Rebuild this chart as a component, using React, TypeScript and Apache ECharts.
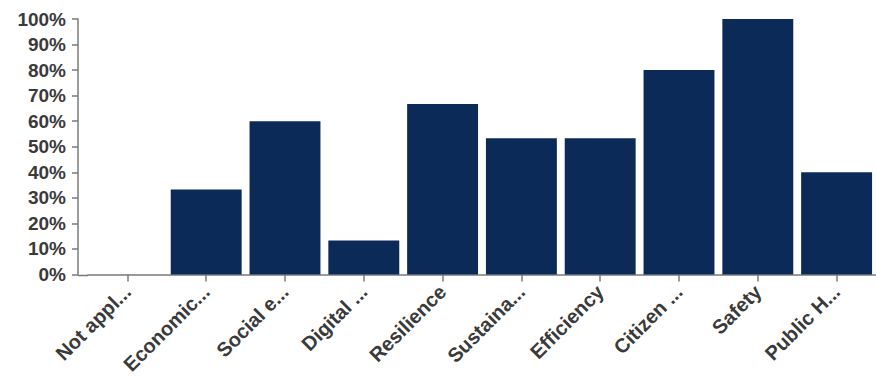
import React, { useEffect, useRef } from "react";
import * as echarts from "echarts";

const categories = [
  "Not appl...",
  "Economic...",
  "Social e...",
  "Digital ...",
  "Resilience",
  "Sustaina...",
  "Efficiency",
  "Citizen ...",
  "Safety",
  "Public H...",
];
const values = [0, 33.3, 60, 13.3, 66.7, 53.3, 53.3, 80, 100, 40];
const yTicks = { min: 0, max: 100, interval: 10 };

const GRID_LEFT = 88;
const GRID_TOP = 19;
const GRID_W = 795;
const GRID_H = 256.5;
const Y_OFFSET = 10;

export default function App() {
  const ref = useRef<HTMLDivElement>(null);
  useEffect(() => {
    if (!ref.current) return;
    const chart = echarts.init(ref.current, undefined, { renderer: "svg" });
    const axisColor = "#7a7a7a";
    chart.setOption({
      animation: false,
      backgroundColor: "#ffffff",
      grid: { left: GRID_LEFT, top: GRID_TOP, width: GRID_W, height: GRID_H, containLabel: false },
      xAxis: {
        type: "category",
        data: categories,
        axisLine: { show: true, lineStyle: { color: axisColor, width: 1.5 } },
        axisTick: { show: true, alignWithLabel: true, length: 7, lineStyle: { color: axisColor, width: 1.5 } },
        axisLabel: {
          rotate: 45,
          margin: 14,
          interval: 0,
          color: "#3a3a3a",
          fontFamily: "Liberation Sans, Arial, sans-serif",
          fontSize: 20,
          fontWeight: "bold",
        },
      },
      yAxis: {
        type: "value",
        min: yTicks.min,
        max: yTicks.max,
        interval: yTicks.interval,
        offset: Y_OFFSET,
        splitLine: { show: false },
        axisLine: { show: true, lineStyle: { color: axisColor, width: 1.5 } },
        axisTick: { show: true, length: 6, lineStyle: { color: axisColor, width: 1.5 } },
        axisLabel: {
          formatter: "{value}%",
          margin: 12,
          color: "#3a3a3a",
          fontFamily: "Liberation Sans, Arial, sans-serif",
          fontSize: 19,
          fontWeight: "bold",
        },
      },
      graphic: [
        {
          type: "line",
          shape: { x1: GRID_LEFT - Y_OFFSET, y1: GRID_TOP + GRID_H, x2: GRID_LEFT, y2: GRID_TOP + GRID_H },
          style: { stroke: axisColor, lineWidth: 1.5 },
        },
      ],
      series: [
        {
          type: "bar",
          data: values,
          barCategoryGap: "10%",
          itemStyle: { color: "#0b2a58" },
        },
      ],
    });
    return () => chart.dispose();
  }, []);
  return (
    <div
      ref={ref}
      style={{ position: "fixed", left: 0, top: 0, width: 876, height: 377, background: "#fff" }}
    />
  );
}
